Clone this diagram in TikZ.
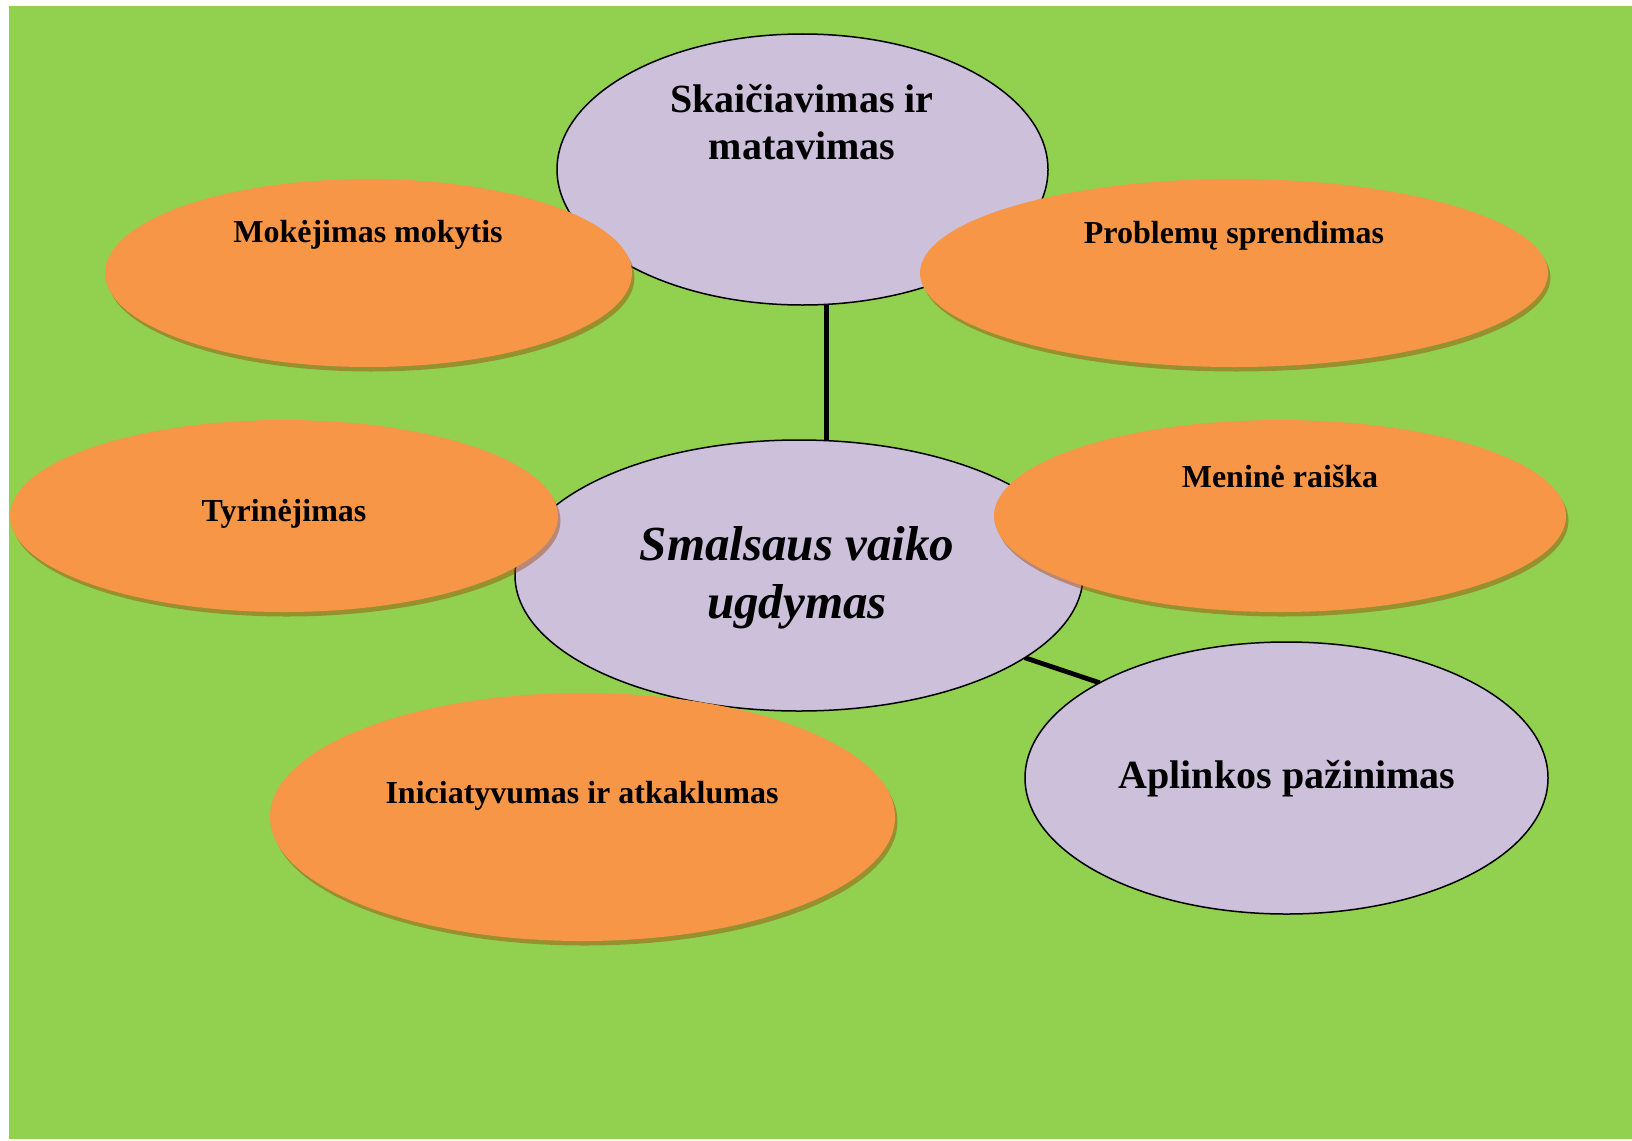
\documentclass[tikz,border=0pt]{standalone}
\usepackage{fontspec}
\setmainfont{Liberation Serif}
\usetikzlibrary{shapes.geometric,shadows,calc}
\definecolor{bggreen}{HTML}{92D050}
\definecolor{orangefill}{HTML}{F79646}
\definecolor{lavfill}{HTML}{CCC0DA}
\definecolor{shadowc}{RGB}{159,68,7}
\pgfdeclarelayer{back}
\pgfsetlayers{back,main}
\begin{document}
\begin{tikzpicture}[x=1pt,y=-1pt,
  lav/.style={ellipse, draw=black, line width=1.5pt, fill=lavfill, inner sep=0pt, outer sep=0pt},
  orn/.style={ellipse, fill=orangefill, inner sep=0pt, outer sep=0pt,
    drop shadow={shadow xshift=2.5pt, shadow yshift=-4.5pt, fill=shadowc, opacity=0.45}},
  lab/.style={font=\bfseries\fontsize{32}{38}\selectfont, inner sep=0pt, align=center},
  conn/.style={line width=4.8pt, draw=black}]
\useasboundingbox (0,0) rectangle (1632,1140);
\begin{pgfonlayer}{back}
\fill[white] (0,0) rectangle (1632,1140);
\fill[bggreen] (9,6) rectangle (1632,1139);
\end{pgfonlayer}

\node[lav, minimum width=491pt, minimum height=271pt] (calc) at (802.5,169.5) {};
\node[lab, font=\bfseries\fontsize{40}{47}\selectfont] (calct) at (802,122) {Skaičiavimas ir\\matavimas};

\node[orn, minimum width=527pt, minimum height=188pt] (learn) at (368.5,273) {};
\node[lab] (learnt) at (368,235) {Mokėjimas mokytis};

\node[orn, minimum width=628pt, minimum height=188pt] (prob) at (1234,273) {};
\node[lab] (probt) at (1234,236) {Problemų sprendimas};

\node[lav, minimum width=568pt, minimum height=271pt] (mid) at (799,575.5) {};
\node[lab, font=\bfseries\itshape\fontsize{49}{58}\selectfont] (midt) at (797,578) {Smalsaus vaiko\\ugdymas};

\node[orn, minimum width=548pt, minimum height=192pt] (res) at (284,516) {};
\node[lab] (rest) at (284,514) {Tyrinėjimas};

\node[orn, minimum width=572pt, minimum height=192pt] (art) at (1280,516) {};
\node[lab] (artt) at (1280,476) {Meninė raiška};

\node[lav, minimum width=523pt, minimum height=272pt] (env) at (1286.5,778) {};
\node[lab, font=\bfseries\fontsize{40}{47}\selectfont] (envt) at (1287,779) {Aplinkos pažinimas};

\node[orn, minimum width=625pt, minimum height=248pt] (init) at (582.5,817) {};
\node[lab] (initt) at (582,796) {Iniciatyvumas ir atkaklumas};

\begin{pgfonlayer}{back}
\draw[conn] (calc.-80.6) -- (calc.-80.6 |- mid.north);
\draw[conn] (mid.-20) -- (env.153.6);
\end{pgfonlayer}
\end{tikzpicture}
\end{document}
